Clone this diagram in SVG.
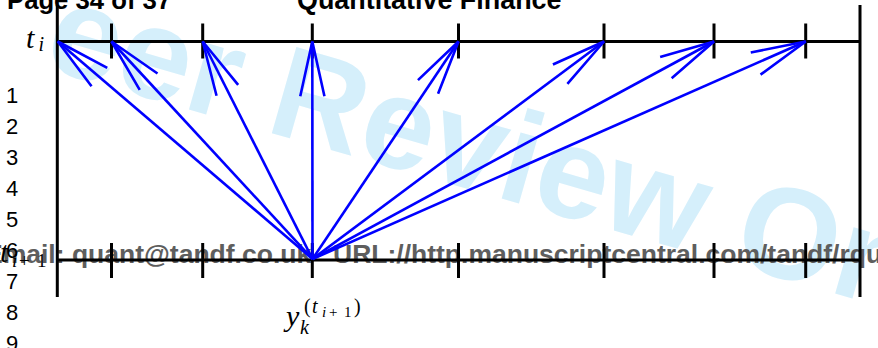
<svg xmlns="http://www.w3.org/2000/svg" width="878" height="348" viewBox="0 0 878 348">
<style>
.wm{font-family:"Liberation Sans",Arial,sans-serif;font-weight:bold;font-size:130px;fill:#d5effb}
.hdr{font-family:"Liberation Sans",Arial,sans-serif;font-weight:bold;fill:#000}
.ln{font-family:"Liberation Sans",Arial,sans-serif;font-size:22px;fill:#000}
.mail{font-family:"Liberation Sans",Arial,sans-serif;font-weight:bold;font-size:26.5px;fill:#5e5e5e}
.ax{stroke:#000;stroke-width:3;fill:none;stroke-linecap:butt}
.arr{stroke:#0000ff;stroke-width:2.6;fill:none;marker-end:url(#head)}
.m{font-family:"Liberation Serif","Times New Roman",serif;font-style:italic;fill:#000}
.mr{font-family:"Liberation Serif","Times New Roman",serif;fill:#000}
</style>
<defs>
<marker id="head" markerUnits="userSpaceOnUse" orient="auto" refX="0" refY="0" markerWidth="60" markerHeight="30" overflow="visible">
<path d="M -54.7,-12.1 L 0,0 L -54.7,12.1" fill="none" stroke="#0000ff" stroke-width="2.6" stroke-linejoin="miter"/>
</marker>
</defs>
<rect width="878" height="348" fill="#fff"/>
<text class="wm" transform="translate(41.1,67.3) rotate(15.9)">eer Review Only</text>
<text class="mail" x="-15" y="263">Email: quant@tandf.co.uk<tspan x="333">URL://http.manuscriptcentral.com/tandf/rquf</tspan></text>
<g id="axes" class="ax">
<path d="M57.3,5 V297 M860,5 V297 M57.3,41.5 H860 M57.3,260 H860"/>
<path d="M111.5,23.5 V58.5 M202.7,23.5 V58.5 M312.3,23.5 V58.5 M458.5,23.5 V58.5 M604,23.5 V58.5 M714,23.5 V58.5 M805.7,23.5 V58.5"/>
<path d="M111.5,243 V278 M202.7,243 V278 M312.3,243 V278 M458.5,243 V278 M604,243 V278 M714,243 V278 M805.7,243 V278"/>
</g>
<g id="connectors" class="arr">
<line x1="312.5" y1="259" x2="57.8" y2="41.5"/>
<line x1="312.5" y1="259" x2="111.5" y2="41.5"/>
<line x1="312.5" y1="259" x2="202.7" y2="41.5"/>
<line x1="312.5" y1="259" x2="312.3" y2="41.5"/>
<line x1="312.5" y1="259" x2="458.5" y2="41.5"/>
<line x1="312.5" y1="259" x2="604" y2="41.5"/>
<line x1="312.5" y1="259" x2="714" y2="41.5"/>
<line x1="312.5" y1="259" x2="805.7" y2="41.5"/>
</g>
<g id="label-ti">
<text class="m" x="26" y="47.5" font-size="30">t</text>
<text class="m" x="38.5" y="51" font-size="20">i</text>
</g>
<g id="label-ti1">
<text class="m" x="0" y="262" font-size="30">t</text>
<text class="m" x="12" y="267" font-size="19">i</text>
<text class="mr" x="19" y="267" font-size="19">+</text>
<text class="mr" x="37" y="267" font-size="19">1</text>
</g>
<g id="label-yk">
<text class="m" x="286" y="326" font-size="30">y</text>
<text class="m" x="300" y="334" font-size="20">k</text>
<text class="mr" x="304" y="313" font-size="20">(</text>
<text class="m" x="312" y="313" font-size="20">t</text>
<text class="m" x="322" y="317" font-size="15">i</text>
<text class="mr" x="329" y="317" font-size="15">+</text>
<text class="mr" x="344" y="317" font-size="15">1</text>
<text class="mr" x="354" y="313" font-size="20">)</text>
</g>
<g id="header">
<text class="hdr" x="7" y="8.5" font-size="25.7">Page 34 of 37</text>
<text class="hdr" x="297" y="8.5" font-size="26.9">Quantitative Finance</text>
</g>
<g id="line-numbers" class="ln">
<text x="6" y="103">1</text>
<text x="6" y="134">2</text>
<text x="6" y="165">3</text>
<text x="6" y="196">4</text>
<text x="6" y="227">5</text>
<text x="6" y="258">6</text>
<text x="6" y="289">7</text>
<text x="6" y="320">8</text>
<text x="6" y="351">9</text>
</g>
</svg>
